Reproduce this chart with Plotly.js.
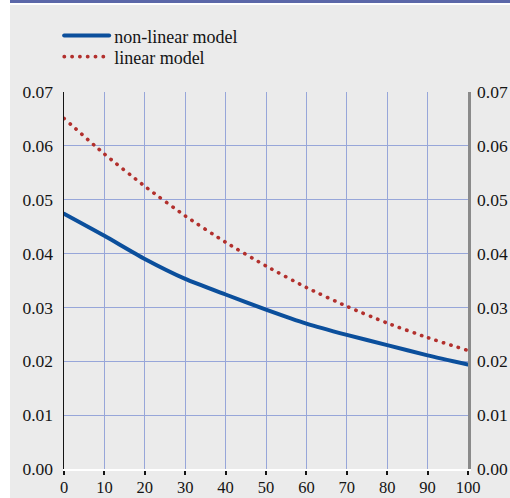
<!DOCTYPE html>
<html>
<head>
<meta charset="utf-8">
<script src="https://cdn.plot.ly/plotly-3.0.1.min.js"></script>
<style>
  html, body { margin: 0; padding: 0; background: #ffffff; }
  #wrap { position: relative; width: 510px; height: 498px; overflow: hidden; }
  #topbar { position: absolute; left: 10px; top: 0; width: 500px; height: 3px; background: #5b67a8; }
  #panel { position: absolute; left: 10px; top: 5px; width: 500px; height: 493px; background: #ebebeb; }
  #chart { position: absolute; left: 0; top: 0; width: 510px; height: 498px; }
  #chart .js-line { stroke-linecap: round; }
</style>
</head>
<body>
<div id="wrap">
  <div id="topbar"></div>
  <div id="panel"></div>
  <div id="chart"></div>
</div>
<script>
// Data
const xValues = [0, 10, 20, 30, 40, 50, 60, 70, 80, 90, 100];
const nonLinearModel = [0.0474, 0.0433, 0.0390, 0.0353, 0.0324, 0.0296, 0.0270, 0.0249, 0.0230, 0.0211, 0.0194];
const linearModel = [0.0651, 0.0585, 0.0525, 0.0470, 0.0421, 0.0377, 0.0337, 0.0302, 0.0271, 0.0244, 0.0220];
const seriesNames = ["non-linear model", "linear model"];
const yTickVals = [0, 0.01, 0.02, 0.03, 0.04, 0.05, 0.06, 0.07];
const yTickText = ["0.00", "0.01", "0.02", "0.03", "0.04", "0.05", "0.06", "0.07"];
const xTickVals = [0, 10, 20, 30, 40, 50, 60, 70, 80, 90, 100];

const FONT = "'Liberation Serif', 'DejaVu Serif', serif";
const GRID = "#97a6d9";
const INK = "#141414";

const traces = [
  {
    x: xValues, y: nonLinearModel, name: seriesNames[0], type: "scatter", mode: "lines",
    line: { color: "#0b4f9c", width: 4, shape: "spline", smoothing: 0.6 },
    legend: "legend", hoverinfo: "skip"
  },
  {
    x: xValues, y: linearModel, name: seriesNames[1], type: "scatter", mode: "lines",
    line: { color: "#b2302d", width: 3.6, dash: "0.3px,7.5px", shape: "spline", smoothing: 0.6 },
    legend: "legend2", hoverinfo: "skip"
  },
  {
    x: xValues, y: linearModel, yaxis: "y2", type: "scatter", mode: "lines",
    opacity: 0, showlegend: false, hoverinfo: "skip", line: { width: 0 }
  }
];

const legendBase = {
  x: -0.012, xanchor: "left", yanchor: "middle",
  bgcolor: "rgba(0,0,0,0)", borderwidth: 0,
  font: { family: FONT, size: 18, color: INK },
  itemwidth: 45
};

const layout = {
  width: 510, height: 498,
  margin: { l: 64, r: 42, t: 92, b: 29, pad: 0 },
  paper_bgcolor: "rgba(0,0,0,0)",
  plot_bgcolor: "#ebebeb",
  font: { family: FONT, size: 16, color: INK },
  showlegend: true,
  legend: Object.assign({}, legendBase, { y: 1.149 }),
  legend2: Object.assign({}, legendBase, { y: 1.093 }),
  xaxis: {
    range: [0, 100], tickvals: xTickVals, ticktext: xTickVals.map(String),
    showgrid: true, gridcolor: GRID, gridwidth: 1,
    zeroline: false,
    showline: true, linecolor: "#ffffff", linewidth: 2,
    ticks: "outside", ticklen: 4, tickwidth: 2, tickcolor: INK,
    ticklabelstandoff: -2,
    tickfont: { family: FONT, size: 16.5, color: INK },
    fixedrange: true
  },
  yaxis: {
    range: [0, 0.07], tickvals: yTickVals, ticktext: yTickText,
    showgrid: true, gridcolor: GRID, gridwidth: 1,
    zeroline: false,
    showline: true, linecolor: INK, linewidth: 1.5,
    ticks: "", ticklabelstandoff: 6,
    tickfont: { family: FONT, size: 17.5, color: INK },
    fixedrange: true
  },
  yaxis2: {
    overlaying: "y", side: "right", matches: "y",
    range: [0, 0.07], tickvals: yTickVals, ticktext: yTickText,
    showgrid: false, zeroline: false,
    showline: true, linecolor: "#8a8a8a", linewidth: 2.5,
    ticks: "", ticklabelstandoff: 3,
    tickfont: { family: FONT, size: 17.5, color: INK },
    fixedrange: true
  }
};

Plotly.newPlot("chart", traces, layout, { staticPlot: true, displayModeBar: false });
</script>
</body>
</html>
